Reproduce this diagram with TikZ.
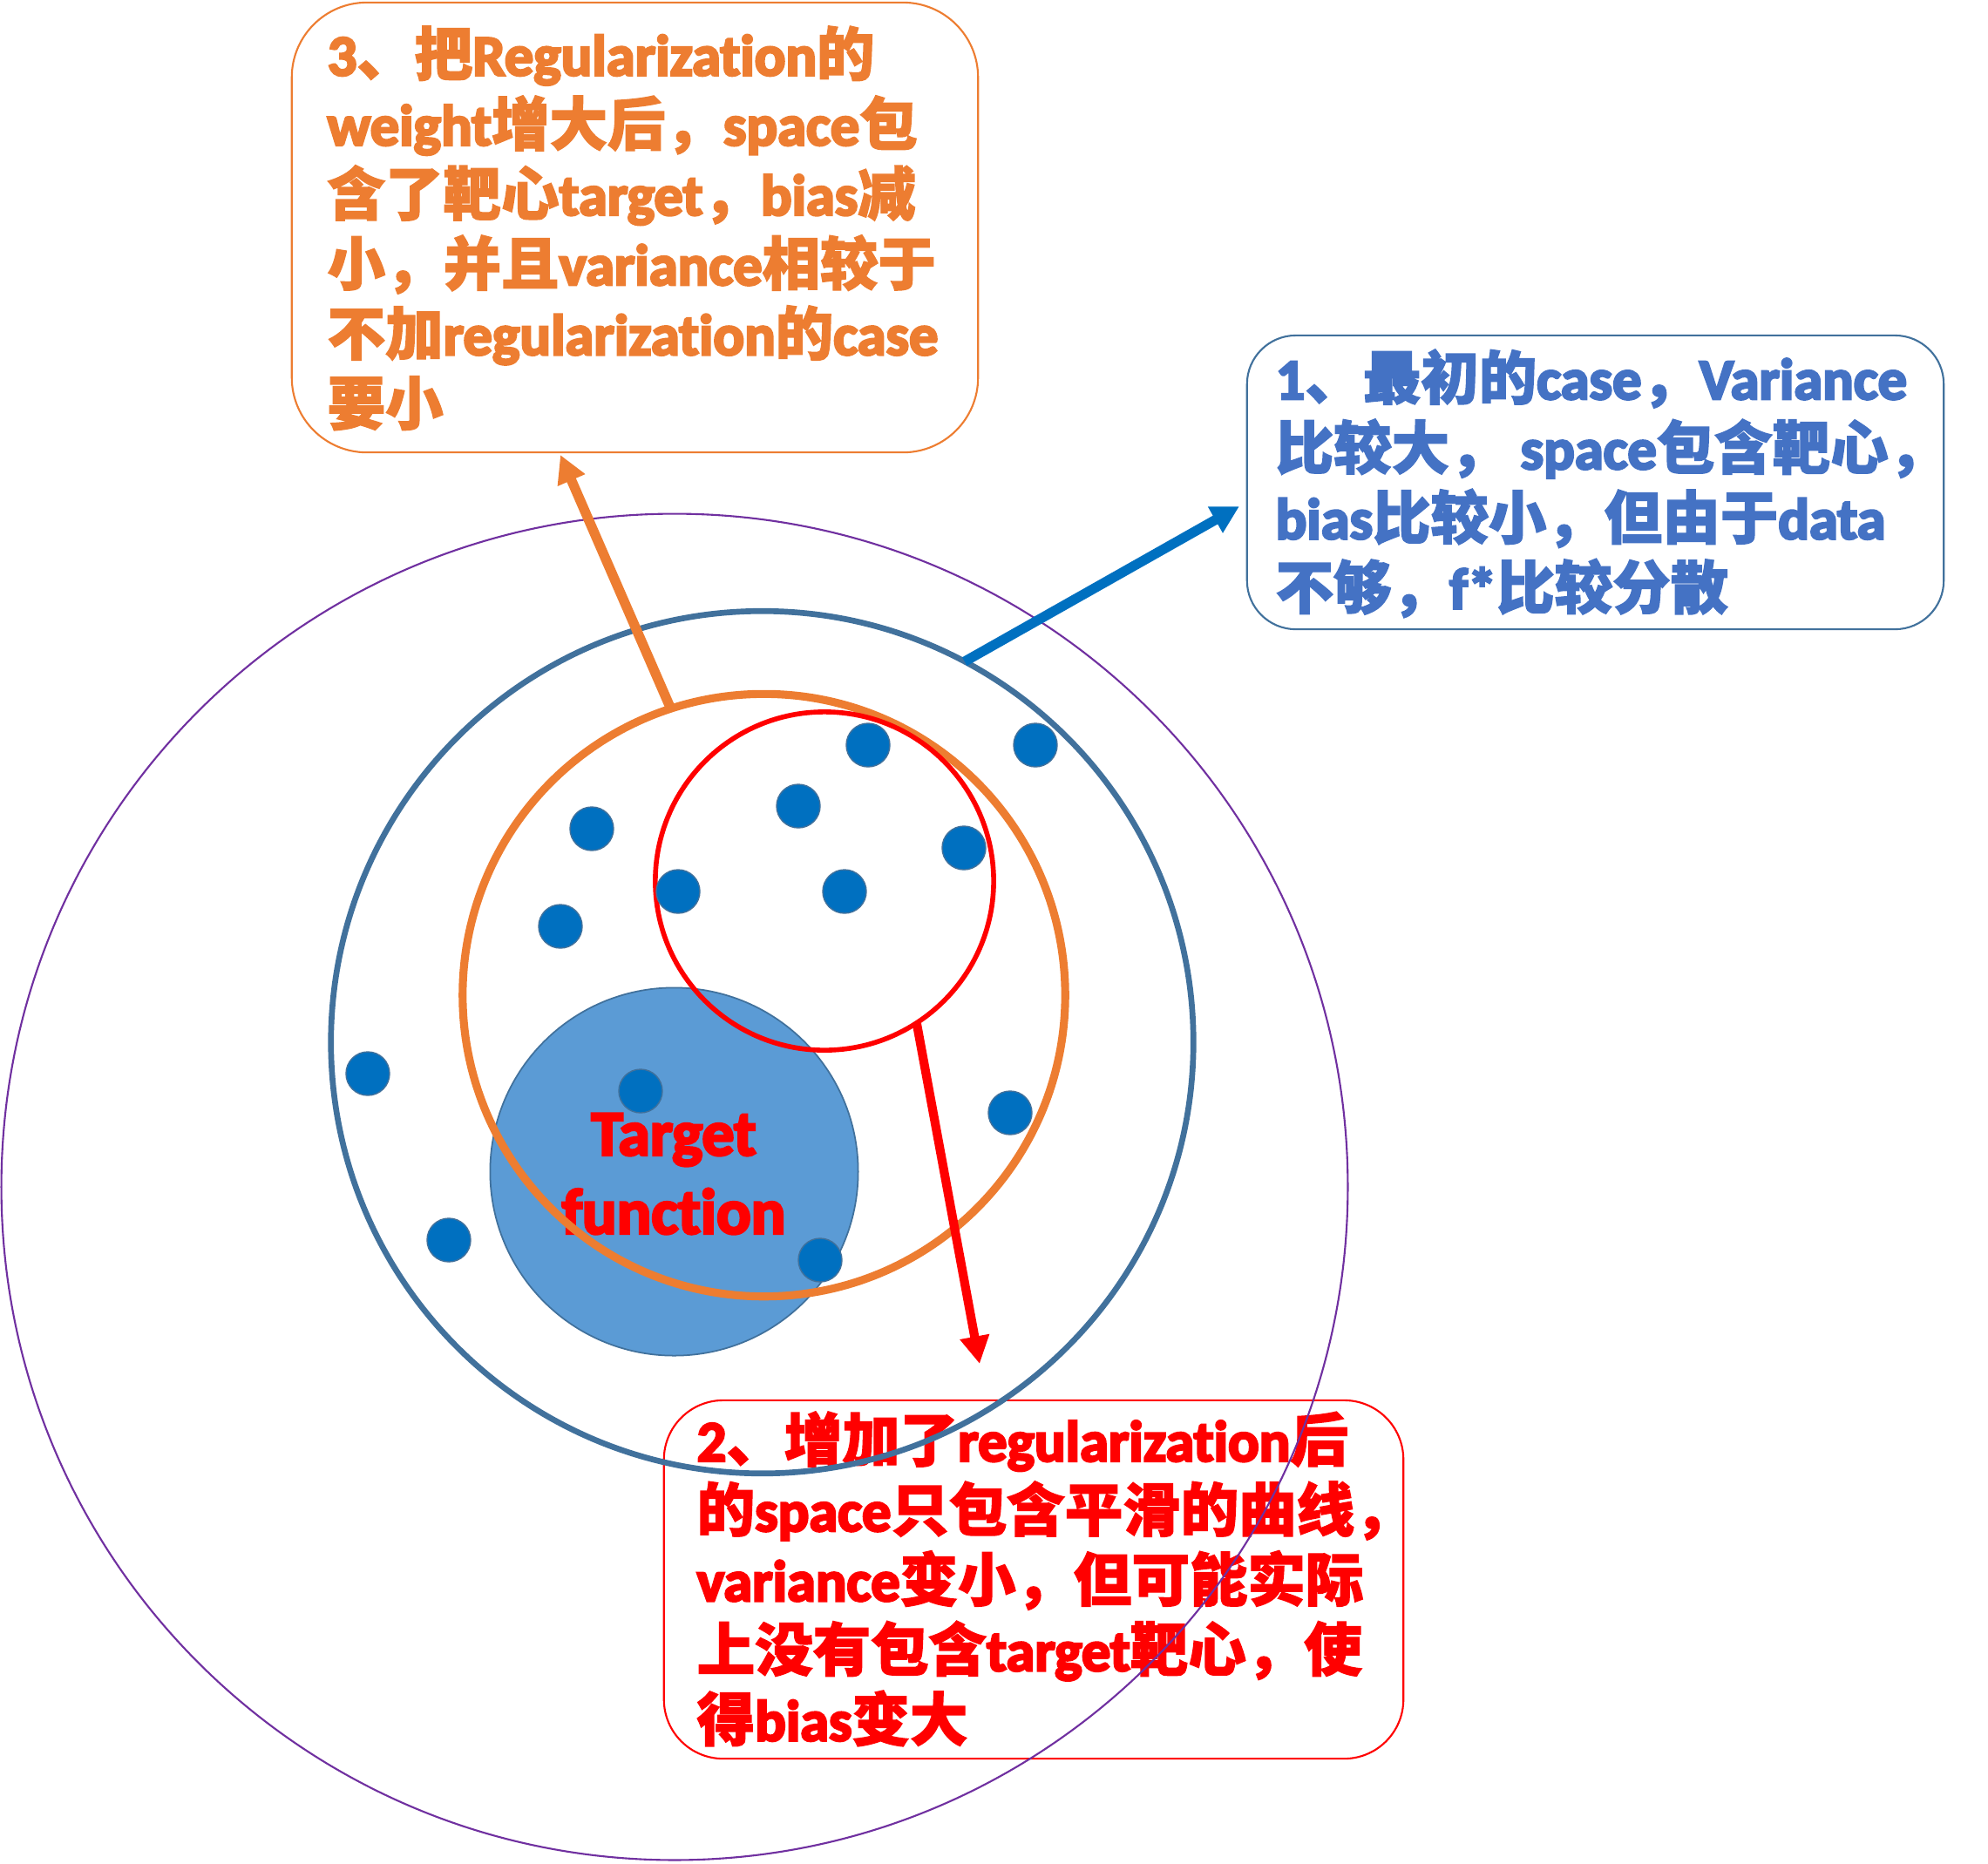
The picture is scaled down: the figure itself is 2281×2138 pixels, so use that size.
\documentclass[tikz,border=0pt]{standalone}
\usepackage{fontspec}
\setmainfont{Carlito}[Ligatures=NoCommon, BoldFont={Carlito Bold}, BoldFeatures={FakeBold=4}]
\newfontfamily\zhfont{Noto Sans CJK SC}[BoldFeatures={FakeBold=2}]
\newcommand\zh[1]{{\zhfont#1}}
\usetikzlibrary{arrows.meta}
\definecolor{corange}{HTML}{ED7D31}
\definecolor{cpurple}{HTML}{7030A0}
\definecolor{csteel}{HTML}{41719C}
\definecolor{ctarget}{HTML}{5B9BD5}
\definecolor{cdot}{HTML}{0070C0}
\definecolor{ctextblue}{HTML}{4472C4}
\definecolor{cred}{HTML}{FF0000}
\begin{document}
\begin{tikzpicture}[x=0.01cm,y=-0.01cm,
  ring/.style={circle, draw, inner sep=0pt, outer sep=0pt},
  dotnode/.style={circle, fill=cdot, draw=csteel, line width=0.4pt, minimum size=0.5cm, inner sep=0pt},
  notebox/.style={rectangle, draw, line width=0.6pt, inner sep=0pt},
  notetext/.style={anchor=north west, align=left, inner sep=0pt, font=\bfseries\fontsize{18.9pt}{22.8pt}\selectfont},
  arr/.style={line width=3.2pt, -{Triangle[width=9.2pt,length=9pt]}}
]
\useasboundingbox (0,0) rectangle (2281,2138);

% box 2 (behind circles)
\node[notebox, draw=cred, minimum width=8.48cm, minimum height=4.11cm, rounded corners=0.68cm] (box2) at (1186,1812.5) {};
\node[notetext, text=cred] (text2) at (799,1619) {2\zh{、增加了}regularization\zh{后}\\
\zh{的}space\zh{只包含平滑的曲线，}\\
variance\zh{变小，但可能实际}\\
\zh{上没有包含}target\zh{靶心，使}\\
\zh{得}bias\zh{变大}};

% circles
\node[ring, draw=cpurple, line width=0.6pt, minimum size=15.44cm] (outer) at (774,1362) {};
\node[ring, draw=csteel, line width=1.9pt, minimum size=9.89cm] (space) at (874.5,1196) {};
\node[ring, draw=csteel, fill=ctarget, line width=0.5pt, minimum size=4.22cm] (target) at (773.5,1344.5) {};
\node[font=\bfseries\fontsize{21pt}{25.6pt}\selectfont, text=cred, align=center, inner sep=0pt] (tlabel) at (773,1347) {Target\\function};
\node[ring, draw=corange, line width=2.6pt, minimum size=6.91cm] (orange) at (876.5,1142) {};
\node[ring, draw=cred, line width=1.6pt, minimum size=3.88cm] (red) at (946,1011) {};

% dots
\node[dotnode] (d1) at (996,855) {};
\node[dotnode] (d2) at (1188,855) {};
\node[dotnode] (d3) at (916,925) {};
\node[dotnode] (d4) at (679,951) {};
\node[dotnode] (d5) at (1106,973) {};
\node[dotnode] (d6) at (778,1023) {};
\node[dotnode] (d7) at (969,1023) {};
\node[dotnode] (d8) at (643,1063) {};
\node[dotnode] (d9) at (422,1232) {};
\node[dotnode] (d10) at (735,1252) {};
\node[dotnode] (d11) at (1159,1277) {};
\node[dotnode] (d12) at (515,1423) {};
\node[dotnode] (d13) at (941,1446) {};

% box 3
\node[notebox, draw=corange, minimum width=7.87cm, minimum height=5.16cm, rounded corners=0.86cm] (box3) at (728.5,261) {};
\node[notetext, text=corange] (text3) at (375,29) {3\zh{、把}Regularization\zh{的}\\
weight\zh{增大后，}space\zh{包}\\
\zh{含了靶心}target\zh{，}bias\zh{减}\\
\zh{小，并且}variance\zh{相较于}\\
\zh{不加}regularization\zh{的}case\\
\zh{要小}};

% box 1
\node[notebox, draw=csteel, minimum width=7.99cm, minimum height=3.37cm, rounded corners=0.56cm] (box1) at (1830.5,553.5) {};
\node[notetext, text=ctextblue] (text1) at (1463,400) {1\zh{、最初的}case\zh{，}Variance\\
\zh{比较大，} space\zh{包含靶心，}\\
bias\zh{比较小，但由于}data\\
\zh{不够，}f*\zh{比较分散}};

% arrows
\coordinate (tip3) at (643,522);
\coordinate (tip1) at (1422,581);
\coordinate (tip2) at (1124,1565);
\draw[arr, draw=corange] (orange.108.6) -- (tip3);
\draw[arr, draw=cdot] (space.62.2) -- (tip1);
\draw[arr, line width=2.9pt, draw=cred] (red.-57.4) -- (tip2);
\end{tikzpicture}
\end{document}
